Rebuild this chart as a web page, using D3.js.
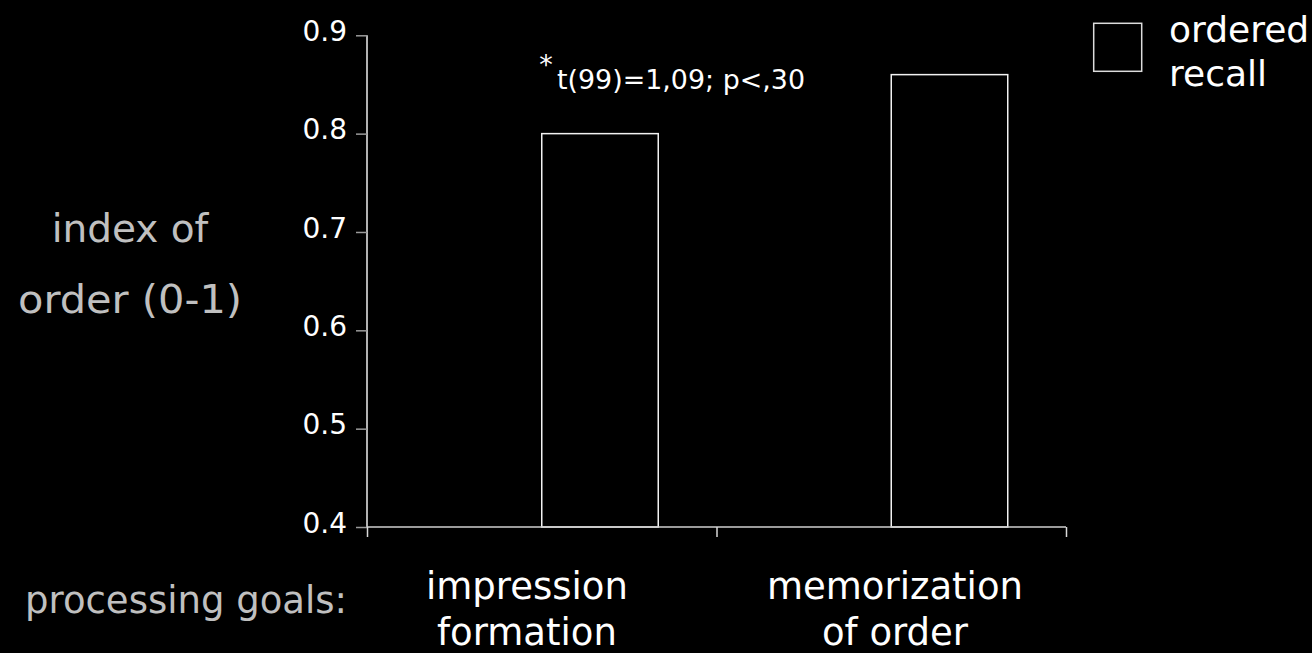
<!DOCTYPE html>
<html>
<head>
<meta charset="utf-8">
<script src="https://cdn.jsdelivr.net/npm/d3@7"></script>
<style>
  html, body { margin: 0; padding: 0; background: #000; }
  svg { display: block; }
  text { font-family: "DejaVu Sans", sans-serif; }
</style>
</head>
<body>
<svg id="chart" width="1312" height="653"></svg>
<script>
// ---- data ----
const categories = ["impression formation", "memorization of order"];
const categoryLines = [["impression", "formation"], ["memorization", "of order"]];
const recallValues = [0.80, 0.86];
const yTicks = [0.4, 0.5, 0.6, 0.7, 0.8, 0.9];
const legendLines = ["ordered", "recall"];
const yTitleLines = ["index of", "order (0-1)"];
const xTitle = "processing goals:";
const statNote = "t(99)=1,09; p<,30";

// ---- layout ----
const svg = d3.select("#chart");
const W = 1312, H = 653;
svg.append("rect").attr("width", W).attr("height", H).attr("fill", "#000");

const plot = { left: 367, right: 1066, top: 35.3, bottom: 527 };

const y = d3.scaleLinear().domain([0.4, 0.9]).range([plot.bottom, plot.top]);
const x = d3.scaleBand().domain(categories).range([plot.left, plot.right]).padding(0);
const xEdge = d3.scaleLinear().domain([0, categories.length]).range([plot.left, plot.right]);

// ---- bars (start at band centre, width = band/3) ----
const barW = x.bandwidth() / 3;
svg.append("g").selectAll("rect")
  .data(recallValues)
  .join("rect")
  .attr("x", (d, i) => x(categories[i]) + x.bandwidth() / 2)
  .attr("y", d => y(d))
  .attr("width", barW)
  .attr("height", d => y(0.4) - y(d))
  .attr("fill", "#000")
  .attr("stroke", "#f2f2f2")
  .attr("stroke-width", 1.5);

// ---- y axis ----
const yAxis = svg.append("g")
  .attr("transform", `translate(${plot.left},0)`)
  .call(d3.axisLeft(y).tickValues(yTicks).tickFormat(d3.format(".1f")).tickSize(11).tickPadding(9));
yAxis.select(".domain").attr("stroke", "#eeeeee").attr("stroke-width", 1.5)
  .attr("d", `M0,${plot.top}V${plot.bottom}`);
yAxis.selectAll(".tick line").attr("stroke", "#9a9a9a").attr("stroke-width", 1.5);
yAxis.selectAll(".tick text")
  .attr("fill", "#fff")
  .attr("font-size", 28)
  .attr("font-family", "DejaVu Sans, sans-serif")
  .attr("dy", "0.18em");

// ---- x axis (ticks at category boundaries) ----
const xAxis = svg.append("g")
  .attr("transform", `translate(0,${plot.bottom})`)
  .call(d3.axisBottom(xEdge).tickValues(d3.range(categories.length + 1)).tickFormat("").tickSize(10).tickSizeOuter(0));
xAxis.select(".domain").attr("stroke", "#cfcfcf").attr("stroke-width", 1.5)
  .attr("d", `M${plot.left},0H${plot.right}`);
xAxis.selectAll(".tick line").attr("stroke", "#d9d9d9").attr("stroke-width", 1.5);

// ---- category labels ----
const labelCenters = [527, 895];
const catG = svg.append("g");
categoryLines.forEach((lines, i) => {
  lines.forEach((ln, j) => {
    catG.append("text")
      .attr("x", labelCenters[i])
      .attr("y", 599 + j * 46)
      .attr("text-anchor", "middle")
      .attr("fill", "#fff")
      .attr("font-size", 37)
      .text(ln);
  });
});

// ---- x title ----
svg.append("text")
  .attr("x", 25).attr("y", 613)
  .attr("fill", "#c0c0c0")
  .attr("font-size", 37)
  .text(xTitle);

// ---- y title ----
yTitleLines.forEach((ln, j) => {
  const t = svg.append("text")
    .attr("x", 130).attr("y", 242 + j * 71)
    .attr("text-anchor", "middle")
    .attr("fill", "#c0c0c0")
    .attr("font-size", 39)
    .text(ln);
  if (j === 1) t.attr("textLength", 224).attr("lengthAdjust", "spacingAndGlyphs");
});

// ---- stats annotation ----
svg.append("text")
  .attr("x", 546).attr("y", 74)
  .attr("text-anchor", "middle")
  .attr("fill", "#fff")
  .attr("font-size", 27)
  .text("*");
svg.append("text")
  .attr("x", 557).attr("y", 89)
  .attr("fill", "#fff")
  .attr("font-size", 27)
  .attr("textLength", 248)
  .attr("lengthAdjust", "spacingAndGlyphs")
  .text(statNote);

// ---- legend ----
svg.append("rect")
  .attr("x", 1093.7).attr("y", 23.3)
  .attr("width", 48).attr("height", 48)
  .attr("fill", "#000")
  .attr("stroke", "#dcdcdc")
  .attr("stroke-width", 1.5);
legendLines.forEach((ln, j) => {
  svg.append("text")
    .attr("x", 1169).attr("y", 42 + j * 44)
    .attr("fill", "#fff")
    .attr("font-size", 36)
    .text(ln);
});
</script>
</body>
</html>
